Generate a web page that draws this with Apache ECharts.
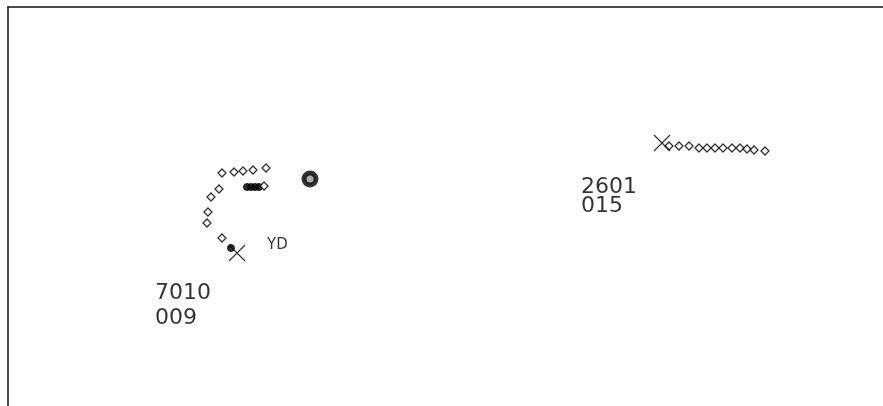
<!DOCTYPE html>
<html>
<head>
<meta charset="utf-8">
<script src="https://cdn.jsdelivr.net/npm/echarts@6/dist/echarts.min.js"></script>
<style>
  html, body { margin: 0; padding: 0; background: #fff; }
  #chart { width: 883px; height: 406px; }
</style>
</head>
<body>
<div id="chart"></div>
<script>
// screen coordinates of the plots (x, y)
var trackA = [[222,173],[234,172],[243,171],[253,170],[266,168],[219,189],[211,197],[208,212],[207,223],[222,238]];
var trackAFilled = [[231,248],[247,187],[251,187],[255,187],[259,187]];
var trackAHollow = [[264,186]];
var trackB = [[669,146],[679,146],[689,146],[699,148],[707,148],[715,148],[723,148],[732,148],[740,148],[747,149],[754,150],[765,151]];
var crosses = [[237,253],[662,143]];
var bigDot = [[310,179]];
// data blocks: [x, y, text]
var tags = [[155,281,'7010\n009'],[581,178,'2601\n015']];
var callsigns = [[267,238,'YD']];

var xPath = 'path://M0,0L10,10M10,0L0,10';
var frameLine = { show: true, lineStyle: { color: '#111', width: 1.5 } };

var chart = echarts.init(document.getElementById('chart'));
chart.setOption({
    animation: false,
    backgroundColor: '#fff',
    grid: { left: 8, top: 7, right: 0, bottom: 0 },
    xAxis: {
        type: 'value', min: 8, max: 883, position: 'top',
        axisLine: frameLine, axisTick: { show: false }, axisLabel: { show: false }, splitLine: { show: false }
    },
    yAxis: {
        type: 'value', min: 7, max: 406, inverse: true,
        axisLine: frameLine, axisTick: { show: false }, axisLabel: { show: false }, splitLine: { show: false }
    },
    series: [
        {
            type: 'scatter', data: trackA.concat(trackB), symbol: 'diamond', symbolSize: 8,
            itemStyle: { color: '#fff', borderColor: '#000', borderWidth: 1.3 }
        },
        {
            type: 'scatter', data: trackAFilled, symbol: 'circle', symbolSize: 7,
            itemStyle: { color: '#000', borderColor: '#000', borderWidth: 1 }
        },
        {
            type: 'scatter', data: trackAHollow, symbol: 'diamond', symbolSize: 8,
            itemStyle: { color: '#fff', borderColor: '#000', borderWidth: 1.3 }
        },
        {
            type: 'scatter', data: crosses, symbol: xPath, symbolSize: 16,
            itemStyle: { color: 'none', borderColor: '#000', borderWidth: 1.2 }
        },
        {
            type: 'scatter', data: bigDot, symbol: 'circle', symbolSize: 12,
            itemStyle: { color: '#999', borderColor: '#000', borderWidth: 5 }
        },
        {
            type: 'scatter', symbolSize: 0,
            data: tags.map(function (t, i) {
                return { value: [t[0], t[1]], name: t[2], label: { lineHeight: i === 0 ? 25 : 19 } };
            }),
            label: {
                show: true, position: 'right', distance: 0,
                formatter: function (p) { return p.name; },
                fontFamily: 'DejaVu Sans', fontSize: 22,
                color: '#000', align: 'left', verticalAlign: 'top'
            }
        },
        {
            type: 'scatter', symbolSize: 0,
            data: callsigns.map(function (t) { return { value: [t[0], t[1]], name: t[2] }; }),
            label: {
                show: true, position: 'right', distance: 0,
                formatter: function (p) { return p.name; },
                fontFamily: 'DejaVu Sans', fontSize: 15,
                color: '#000', align: 'left', verticalAlign: 'top'
            }
        }
    ]
});
</script>
</body>
</html>
